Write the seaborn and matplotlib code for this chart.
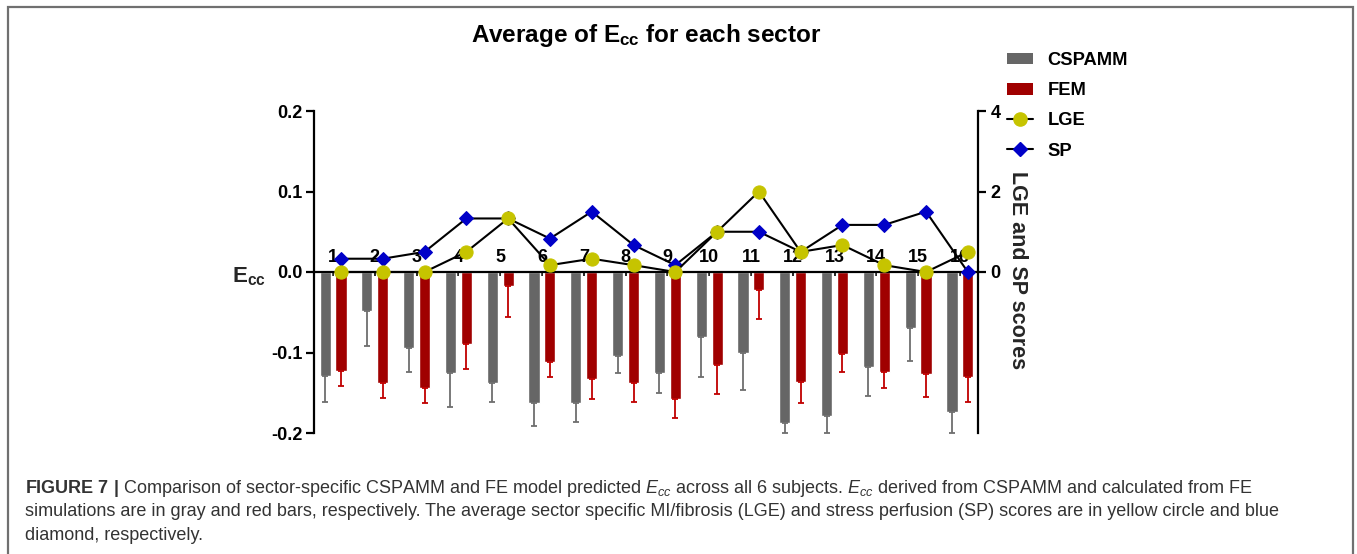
import numpy as np
import pandas as pd
import matplotlib
matplotlib.use("Agg")
import matplotlib.pyplot as plt
import seaborn as sns
from matplotlib.patches import Patch, Rectangle
from matplotlib.lines import Line2D
from matplotlib.ticker import FormatStrFormatter, FixedLocator

# ---------------- data ----------------
sectors = [str(i) for i in range(1, 17)]
cspamm = [-0.129, -0.049, -0.095, -0.125, -0.138, -0.163, -0.163, -0.104,
          -0.125, -0.081, -0.101, -0.188, -0.179, -0.118, -0.070, -0.174]
cspamm_sd = [0.033, 0.043, 0.029, 0.043, 0.023, 0.028, 0.023, 0.021,
             0.025, 0.049, 0.045, 0.012, 0.021, 0.036, 0.041, 0.026]
fem = [-0.123, -0.138, -0.144, -0.090, -0.017, -0.112, -0.133, -0.138,
       -0.158, -0.116, -0.022, -0.137, -0.102, -0.124, -0.127, -0.131]
fem_sd = [0.018, 0.018, 0.019, 0.030, 0.039, 0.019, 0.025, 0.024,
          0.023, 0.035, 0.036, 0.026, 0.022, 0.020, 0.028, 0.031]
lge = [0, 0, 0, 0.5, 1.33, 0.17, 0.33, 0.17, 0, 1.0, 2.0, 0.5, 0.67, 0.17, 0, 0.5]
sp = [0.33, 0.33, 0.5, 1.33, 1.33, 0.83, 1.5, 0.67, 0.17, 1.0, 1.0, 0.5, 1.17, 1.17, 1.5, 0]
left_ticks = [-0.2, -0.1, 0.0, 0.1, 0.2]
right_ticks = [0, 2, 4]

title = r"Average of $\mathbf{E}_{\mathbf{cc}}$ for each sector"
caption = [
    r"$\mathbf{FIGURE\ 7\ |}$ Comparison of sector-specific CSPAMM and FE model predicted $E_{cc}$ across all 6 subjects. $E_{cc}$ derived from CSPAMM and calculated from FE",
    "simulations are in gray and red bars, respectively. The average sector specific MI/fibrosis (LGE) and stress perfusion (SP) scores are in yellow circle and blue",
    "diamond, respectively.",
]

GRAY = "#666666"
RED = "#a00000"
YEL = "#c6c400"
BLUE = "#0000c8"

# ---------------- style ----------------
sns.set_theme(style="ticks")
plt.rcParams["font.family"] = ["Liberation Sans", "DejaVu Sans"]
plt.rcParams.update({
    "mathtext.fontset": "custom",
    "mathtext.rm": "Liberation Sans",
    "mathtext.it": "Liberation Sans:italic",
    "mathtext.bf": "Liberation Sans:bold",
    "axes.unicode_minus": False,
    "axes.edgecolor": "black",
    "xtick.color": "black",
    "ytick.color": "black",
    "text.color": "black",
})

W, H = 1357, 554
fig = plt.figure(figsize=(W / 100, H / 100), dpi=100)
ax = fig.add_axes([314 / W, 1 - 433 / H, 664 / W, 322 / H])

df = pd.DataFrame({
    "Sector": sectors * 2,
    "Method": ["CSPAMM"] * len(sectors) + ["FEM"] * len(sectors),
    "Ecc": cspamm + fem,
})
sns.barplot(data=df, x="Sector", y="Ecc", hue="Method",
            palette={"CSPAMM": GRAY, "FEM": RED}, width=0.76, gap=0.3,
            errorbar=None, saturation=1, legend=False, ax=ax)

# one-sided error bars (downwards)
for cont, sd, col in zip(ax.containers, [cspamm_sd, fem_sd], ["#6e6e6e", "#c00000"]):
    xs = [p.get_x() + p.get_width() / 2 for p in cont]
    vals = [min(p.get_y(), p.get_y() + p.get_height()) for p in cont]
    ax.errorbar(xs, vals, yerr=[sd, np.zeros(len(sd))], fmt="none", ecolor=col,
                elinewidth=1.3, capsize=2.5, capthick=1.3, zorder=1)

red_x = [p.get_x() + p.get_width() / 2 for p in ax.containers[1]]

ax.set_ylim(-0.2, 0.2)
ax.yaxis.set_major_locator(FixedLocator(left_ticks))
ax.yaxis.set_major_formatter(FormatStrFormatter("%.1f"))
for s in ["top", "right"]:
    ax.spines[s].set_visible(False)
ax.spines["left"].set_linewidth(1.6)
ax.spines["bottom"].set_position(("data", 0))
ax.spines["bottom"].set_linewidth(1.6)
ax.tick_params(axis="y", direction="out", length=6, width=1.6, pad=2, labelsize=13)
ax.tick_params(axis="x", direction="out", length=3, width=1.2, pad=-19.5, labelsize=13)
for t in ax.get_yticklabels() + ax.get_xticklabels():
    t.set_fontweight("bold")
ax.set_xlabel("")
ax.set_ylabel(r"$\mathbf{E}_{\mathbf{cc}}$", rotation=0, fontsize=16, ha="right", va="center")
ax.yaxis.set_label_coords(-0.072, 0.485)

# twin axis with scores
ax2 = ax.twinx()
sns.lineplot(x=red_x, y=sp, ax=ax2, color="black", lw=1.5, marker="D",
             markersize=7, markerfacecolor=BLUE, markeredgecolor=BLUE, zorder=3)
sns.lineplot(x=red_x, y=lge, ax=ax2, color="black", lw=1.5, marker="o",
             markersize=9.5, markerfacecolor=YEL, markeredgecolor=YEL, zorder=4)
ax2.set_ylim(-4, 4)
ax2.yaxis.set_major_locator(FixedLocator(right_ticks))
ax2.yaxis.set_major_formatter(FormatStrFormatter("%d"))
for s in ["top", "left", "bottom"]:
    ax2.spines[s].set_visible(False)
ax2.spines["right"].set_linewidth(1.6)
ax2.tick_params(axis="y", direction="out", length=6, width=1.6, pad=3, labelsize=13)
for t in ax2.get_yticklabels():
    t.set_fontweight("bold")
ax2.set_ylabel("LGE and SP scores", rotation=-90, fontsize=15.5, fontweight="bold",
               ha="center", va="center")
ax2.yaxis.set_label_coords(1.060, 0.505)
ax.set_xlim(-0.455, len(sectors) - 1 + 0.433)

# title
fig.text(646 / W, 1 - 42 / H, title, ha="center", va="baseline",
         fontsize=17.5, fontweight="bold")

# legend
handles = [
    Patch(facecolor=GRAY, edgecolor="none"),
    Patch(facecolor=RED, edgecolor="none"),
    Line2D([], [], color="black", lw=1.5, marker="o", markersize=9.5,
           markerfacecolor=YEL, markeredgecolor=YEL),
    Line2D([], [], color="black", lw=1.5, marker="D", markersize=7,
           markerfacecolor=BLUE, markeredgecolor=BLUE),
]
fig.legend(handles, ["CSPAMM", "FEM", "LGE", "SP"], loc="upper left",
           bbox_to_anchor=(1007 / W, 1 - 52 / H), frameon=False,
           prop={"weight": "bold", "size": 13.2}, handlelength=1.4,
           handleheight=0.62, handletextpad=0.8, labelspacing=0.72,
           borderpad=0, borderaxespad=0)

# caption
for i, line in enumerate(caption):
    fig.text(25 / W, 1 - (493 + 23.5 * i) / H, line, ha="left", va="baseline",
             fontsize=13.0, color="#333333")

# frame
fig.add_artist(Rectangle((7.5 / W, -0.05), (1353 - 7.5) / W, 1.05 - 7 / H,
                         transform=fig.transFigure, fill=False,
                         edgecolor="#707070", lw=1.6, clip_on=False))

fig.savefig("out.png", dpi=100)
